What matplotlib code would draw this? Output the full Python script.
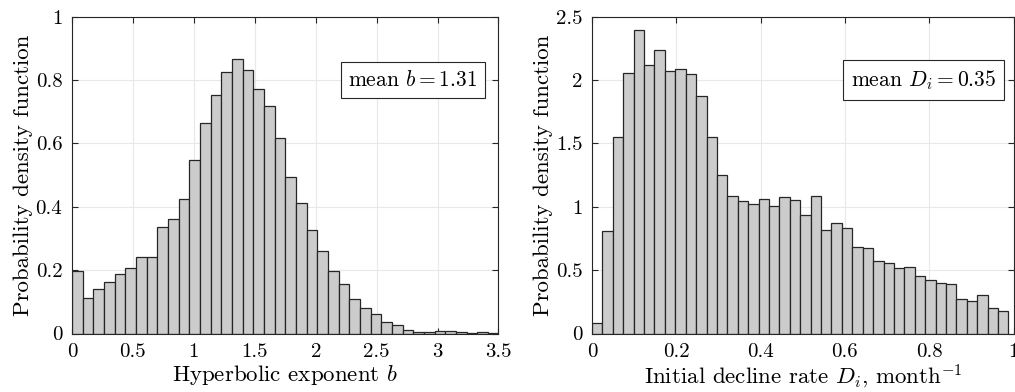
import numpy as np
import matplotlib
matplotlib.use("Agg")
import matplotlib.pyplot as plt

# histogram heights (40 bins each)
b_pdf = [0.198, 0.111, 0.141, 0.164, 0.187, 0.208, 0.242, 0.240, 0.336, 0.362,
         0.423, 0.549, 0.665, 0.752, 0.825, 0.865, 0.831, 0.772, 0.717, 0.616,
         0.493, 0.411, 0.326, 0.260, 0.198, 0.156, 0.109, 0.080, 0.061, 0.035,
         0.027, 0.011, 0.006, 0.004, 0.008, 0.007, 0.006, 0.003, 0.004, 0.002]
b_range = (0.0, 3.5)

di_pdf = [0.084, 0.805, 1.550, 2.055, 2.392, 2.118, 2.234, 2.071, 2.084, 2.045,
          1.876, 1.550, 1.250, 1.087, 1.045, 1.021, 1.058, 1.005, 1.076, 1.055,
          0.934, 1.082, 0.816, 0.874, 0.832, 0.682, 0.676, 0.576, 0.553, 0.513,
          0.526, 0.450, 0.421, 0.395, 0.387, 0.276, 0.253, 0.300, 0.205, 0.174]
di_range = (0.0, 0.988)

b_xticks = [0, 0.5, 1, 1.5, 2, 2.5, 3, 3.5]
b_yticks = [0, 0.2, 0.4, 0.6, 0.8, 1]
di_xticks = [0, 0.2, 0.4, 0.6, 0.8, 1]
di_yticks = [0, 0.5, 1, 1.5, 2, 2.5]

mean_b = 1.31
mean_di = 0.35

plt.rcParams['font.family'] = 'serif'
plt.rcParams['font.serif'] = ['cmr10']
plt.rcParams['mathtext.fontset'] = 'cm'
plt.rcParams['axes.formatter.use_mathtext'] = True
plt.rcParams['axes.unicode_minus'] = False

W, H = 1015, 392
fig = plt.figure(figsize=(W / 100, H / 100), dpi=100)

def px_axes(x0, x1, y0, y1):
    return fig.add_axes([x0 / W, 1 - y1 / H, (x1 - x0) / W, (y1 - y0) / H])

ax1 = px_axes(72, 498.5, 16.7, 333.5)
ax2 = px_axes(592, 1013.5, 16.7, 333.5)

def draw(ax, pdf, rng, xticks, yticks, xlabel, note, note_x):
    edges = np.linspace(rng[0], rng[1], len(pdf) + 1)
    ax.bar(edges[:-1], pdf, width=np.diff(edges), align='edge',
           facecolor='#cccccc', edgecolor='#262626', linewidth=0.9, zorder=2)
    ax.set_xlim(xticks[0], xticks[-1])
    ax.set_ylim(yticks[0], yticks[-1])
    ax.set_xticks(xticks)
    ax.set_yticks(yticks)
    ax.set_xticklabels(['%g' % t for t in xticks])
    ax.set_yticklabels(['%g' % t for t in yticks])
    ax.grid(True, color='#e8e8e8', linewidth=0.8, zorder=0)
    ax.set_axisbelow(True)
    ax.tick_params(direction='in', top=True, right=True, length=4,
                   width=0.8, color='#262626', labelsize=15, pad=7)
    for s in ax.spines.values():
        s.set_color('#262626')
        s.set_linewidth(0.8)
    ax.set_xlabel(xlabel, fontsize=16.5, labelpad=1)
    ax.set_ylabel('Probability density function', fontsize=16.5, labelpad=2)
    ax.text(note_x, 0.80, note, transform=ax.transAxes, ha='right', va='center',
            fontsize=15.5, zorder=5,
            bbox=dict(boxstyle='square,pad=0.36', facecolor='white',
                      edgecolor='#262626', linewidth=0.8))

draw(ax1, b_pdf, b_range, b_xticks, b_yticks, 'Hyperbolic exponent $b$',
     'mean $b = %.2f$' % mean_b, 0.951)
draw(ax2, di_pdf, di_range, di_xticks, di_yticks,
     'Initial decline rate $D_i$, month$^{-1}$', 'mean $D_i = %.2f$' % mean_di, 0.958)

fig.savefig('out.png', dpi=100)
